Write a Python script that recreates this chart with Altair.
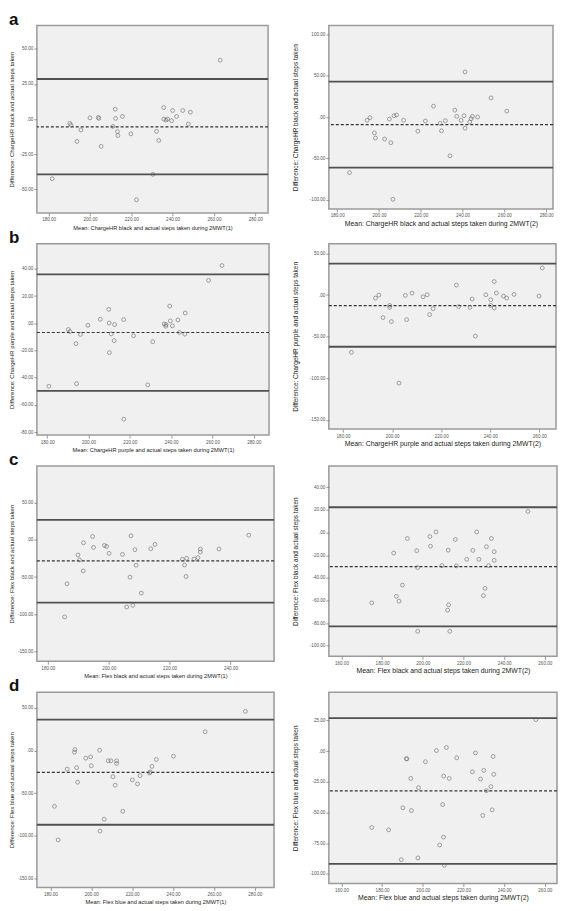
import altair as alt
import pandas as pd

FONT = "Liberation Sans"

# ---------------- data ----------------
# a: ChargeHR black, 2MWT(1)
a1_mean = [181.7, 190.2, 190.8, 193.7, 195.6, 200.0, 204.0, 204.3, 205.4, 211.1, 212.2, 212.4,
           213.3, 213.5, 215.7, 219.8, 222.5, 230.5, 232.2, 233.3, 235.7, 235.7, 236.8, 237.6,
           239.5, 240.0, 241.9, 244.9, 247.6, 248.6, 263.0]
a1_diff = [-42.4, -3.0, -4.2, -15.9, -7.7, 0.9, 1.2, 0.5, -19.4, -5.2, 7.0, 0.5,
           -8.9, -11.7, 1.9, -10.5, -57.4, -39.3, -8.7, -15.2, 8.2, 0.0, -0.7, 0.0,
           -1.2, 6.1, 1.9, 6.1, -3.5, 4.9, 41.9]
a1_lines = [28.5, -5.6, -39.3]

# a: ChargeHR black, 2MWT(2)
a2_mean = [194.3, 195.7, 197.8, 198.3, 202.7, 205.0, 205.7, 207.2, 208.4, 206.7, 211.8, 185.9,
           218.6, 222.2, 226.1, 229.3, 229.9, 231.8, 234.0, 236.3, 237.2, 239.3, 240.7, 241.2,
           241.2, 243.4, 244.1, 244.7, 247.2, 253.6, 261.2]
a2_diff = [-4.0, -0.8, -19.1, -25.4, -26.6, -2.4, -31.0, 1.6, 2.4, -99.4, -4.0, -67.2,
           -17.1, -4.8, 13.1, -7.6, -16.7, -4.4, -46.9, 8.3, 0.8, -4.0, 1.6, 54.5,
           -13.5, -6.0, -2.0, 0.8, 0.0, 23.1, 7.2]
a2_lines = [42.9, -9.1, -61.2]

# b: ChargeHR purple, 2MWT(1)
b1_mean = [180.8, 190.2, 191.0, 193.9, 194.2, 196.1, 199.7, 205.7, 209.8, 210.0, 210.1, 211.0,
           212.4, 212.6, 217.0, 217.1, 221.8, 228.7, 231.1, 236.6, 237.4, 237.5, 239.3, 239.6,
           240.6, 243.3, 244.0, 246.8, 246.6, 258.1, 264.6]
b1_diff = [-46.3, -4.6, -6.1, -15.0, -44.4, -8.2, -1.5, 2.9, 10.2, 0.2, -21.6, -7.8,
           -12.8, -1.0, 2.7, -70.5, -9.2, -45.3, -13.6, -0.5, -2.2, -1.0, 12.6, 1.7,
           -1.9, 2.4, -6.8, 7.5, -8.0, 31.5, 42.4]
b1_lines = [35.9, -6.8, -49.7]

# b: ChargeHR purple, 2MWT(2)
b2_mean = [183.4, 193.2, 194.6, 196.3, 199.0, 199.0, 199.7, 205.4, 205.9, 208.1, 212.6, 214.3,
           215.3, 216.7, 202.8, 226.2, 227.1, 231.7, 232.6, 233.9, 238.2, 240.2, 240.2, 241.6,
           241.6, 242.5, 245.4, 246.7, 249.7, 259.9, 261.2]
b2_diff = [-68.9, -3.6, 0.0, -27.1, -12.4, -14.7, -31.9, -0.4, -29.5, 2.4, -2.0, 0.4,
           -23.5, -16.3, -106.0, 12.0, -13.9, -14.7, -4.8, -49.4, 0.4, -12.4, -5.6, -15.5,
           16.3, 2.4, -1.2, -3.6, 0.8, -1.2, 32.7]
b2_lines = [37.8, -12.7, -62.2]

# c: Flex black, 2MWT(1)
c1_mean = [185.5, 186.3, 189.9, 190.4, 191.7, 191.6, 194.7, 195.0, 198.6, 199.3, 200.1, 204.5,
           205.9, 207.0, 207.3, 207.9, 208.6, 209.0, 210.7, 213.8, 215.2, 224.2, 224.9, 225.4,
           225.6, 228.0, 229.3, 230.1, 230.1, 236.2, 246.0]
c1_diff = [-103.6, -59.1, -20.4, -27.1, -4.0, -41.8, 4.4, -10.2, -7.6, -8.9, -18.2, -19.6,
           -90.2, -50.2, 5.3, -88.0, -13.3, -34.2, -71.6, -12.0, -6.2, -26.2, -33.8, -49.3,
           -24.9, -25.8, -24.0, -16.4, -12.4, -12.4, 6.2]
c1_lines = [26.7, -28.4, -84.4]

# c: Flex black, 2MWT(2)
c2_mean = [174.9, 185.7, 187.0, 188.3, 190.0, 192.4, 197.0, 197.5, 197.5, 203.5, 203.8, 206.5,
           209.4, 212.2, 212.5, 212.7, 213.3, 216.0, 216.5, 221.6, 224.6, 226.5, 227.6, 229.8,
           230.6, 231.3, 232.4, 233.7, 235.1, 235.1, 251.7]
c2_diff = [-62.1, -18.1, -56.3, -60.6, -46.4, -5.2, -16.0, -30.9, -87.2, -3.5, -12.0, 0.6,
           -29.2, -68.5, -15.5, -63.8, -87.2, -6.1, -29.4, -23.6, -15.7, 0.6, -23.6, -55.7,
           -49.3, -12.5, -29.2, -5.2, -16.9, -24.5, 18.7]
c2_lines = [22.4, -30.0, -82.8]

# d: Flex blue, 2MWT(1)
d1_mean = [182.0, 183.8, 188.2, 191.8, 192.0, 192.8, 193.3, 197.3, 199.7, 200.0, 204.1, 204.3,
           206.3, 208.3, 209.6, 210.6, 211.7, 212.4, 212.4, 215.4, 220.1, 222.6, 223.9, 228.5,
           228.8, 229.7, 231.8, 240.2, 255.7, 275.4]
d1_diff = [-65.4, -104.8, -21.7, -1.9, 1.2, -20.1, -37.1, -8.9, -7.4, -17.8, 0.4, -94.4,
           -80.5, -12.0, -12.0, -30.6, -40.6, -12.0, -15.1, -71.2, -34.4, -39.1, -29.4, -26.3,
           -25.1, -18.6, -10.4, -6.6, 22.1, 46.0]
d1_lines = [36.4, -25.5, -87.0]

# d: Flex blue, 2MWT(2)
d2_mean = [174.9, 183.2, 189.4, 190.2, 191.9, 192.2, 194.1, 194.4, 197.6, 197.9, 201.3, 206.7,
           209.8, 210.2, 210.3, 208.3, 210.6, 211.6, 213.0, 216.7, 224.4, 225.9, 228.4, 229.5,
           230.0, 231.3, 233.5, 234.1, 234.6, 234.9, 255.6]
d2_diff = [-62.2, -64.1, -88.4, -46.2, -6.2, -6.2, -22.2, -48.4, -87.0, -29.7, -8.6, 0.5,
           -43.5, -70.0, -20.3, -76.5, -93.0, 3.0, -22.2, -5.4, -16.8, -1.4, -22.7, -52.4,
           -15.7, -32.2, -28.9, -47.8, -4.3, -18.9, 25.7]
d2_lines = [27.0, -32.4, -91.9]

# axis tick values
x_ticks_a1 = [180, 200, 220, 240, 260, 280]
x_ticks_a2 = [180, 200, 220, 240, 260, 280]
x_ticks_b1 = [180, 200, 220, 240, 260, 280]
x_ticks_b2 = [180, 200, 220, 240, 260]
x_ticks_c1 = [180, 200, 220, 240]
x_ticks_c2 = [160, 180, 200, 220, 240, 260]
x_ticks_d1 = [180, 200, 220, 240, 260, 280]
x_ticks_d2 = [160, 180, 200, 220, 240, 260]

y_ticks_a1 = [-50, -25, 0, 25, 50]
y_ticks_a2 = [-100, -50, 0, 50, 100]
y_ticks_b1 = [-80, -60, -40, -20, 0, 20, 40]
y_ticks_b2 = [-150, -100, -50, 0, 50]
y_ticks_c1 = [-150, -100, -50, 0, 50]
y_ticks_c2 = [-100, -80, -60, -40, -20, 0, 20, 40]
y_ticks_d1 = [-150, -100, -50, 0, 50]
y_ticks_d2 = [-100, -75, -50, -25, 0, 25]

# ---------------- styling ----------------
LABEL_EXPR = "(datum.value < 0 ? '-' : '') + (datum.value == 0 ? '.00' : format(abs(datum.value), '.2f'))"


def panel(mean, diff, lines, xdom, ydom, xticks, yticks, xtitle, ytitle,
          w, h, side, letter=None):
    df = pd.DataFrame({"m": mean, "d": diff})
    ldf = pd.DataFrame({"d": lines, "kind": ["upper", "mean", "lower"]})
    if side == "left":
        xt_size, yt_size, ytx = 5.7, 6.0, -22
    else:
        xt_size, yt_size, ytx = 6.9, 6.5, -30
    xenc = alt.X("m:Q",
                 scale=alt.Scale(domain=xdom, nice=False, zero=False),
                 axis=alt.Axis(values=xticks, format=".2f", title=xtitle,
                               titleFontSize=xt_size, titlePadding=3, labelFlush=False))
    yenc = alt.Y("d:Q",
                 scale=alt.Scale(domain=ydom, nice=False, zero=False),
                 axis=alt.Axis(values=yticks, labelExpr=LABEL_EXPR, title=ytitle,
                               titleFontSize=yt_size, titleX=ytx, labelFlush=False))
    pts = alt.Chart(df).mark_point(shape="circle", filled=False, size=15,
                                   color="#5e5e5e", strokeWidth=0.8, clip=True).encode(
        x=xenc, y=yenc)
    solid = alt.Chart(ldf).transform_filter("datum.kind != 'mean'").mark_rule(
        color="#505050", strokeWidth=1.8).encode(y=yenc)
    dashed = alt.Chart(ldf).transform_filter("datum.kind == 'mean'").mark_rule(
        color="#333333", strokeWidth=1.2, strokeDash=[3, 2]).encode(y=yenc)
    ch = alt.layer(solid, dashed, pts).properties(width=w, height=h)
    if letter:
        ch = ch.properties(title=alt.TitleParams(
            text=letter, anchor="start", frame="group", fontSize=17, fontWeight="bold",
            font="Liberation Sans", color="#111111", offset=-3, dx=-28))
    return ch


a1 = panel(a1_mean, a1_diff, a1_lines, [174.3, 286.2], [-66.7, 66.5], x_ticks_a1, y_ticks_a1,
           "Mean: ChargeHR black and actual steps taken during 2MWT(1)",
           "Difference: ChargeHR black and actual steps taken", 232, 188, "left", "a")
a2 = panel(a2_mean, a2_diff, a2_lines, [176.0, 283.3], [-111.0, 110.5], x_ticks_a2, y_ticks_a2,
           "Mean: ChargeHR black and actual steps taken during 2MWT(2)",
           "Difference: ChargeHR black and actual steps taken", 225, 184, "right")
b1 = panel(b1_mean, b1_diff, b1_lines, [175.0, 287.4], [-82.2, 58.4], x_ticks_b1, y_ticks_b1,
           "Mean: ChargeHR purple and actual steps taken during 2MWT(1)",
           "Difference: ChargeHR purple and actual steps taken", 233, 192, "left", "b")
b2 = panel(b2_mean, b2_diff, b2_lines, [174.2, 266.8], [-161.4, 61.8], x_ticks_b2, y_ticks_b2,
           "Mean: ChargeHR purple and actual steps taken during 2MWT(2)",
           "Difference: ChargeHR purple and actual steps taken", 228, 186, "right")
c1 = panel(c1_mean, c1_diff, c1_lines, [176.4, 254.3], [-163.1, 99.1], x_ticks_c1, y_ticks_c1,
           "Mean: Flex black and actual steps taken during 2MWT(1)",
           "Difference: Flex black and actual steps taken", 238, 196, "left", "c")
c2 = panel(c2_mean, c2_diff, c2_lines, [153.8, 266.0], [-109.3, 58.9], x_ticks_c2, y_ticks_c2,
           "Mean: Flex black and actual steps taken during 2MWT(2)",
           "Difference: Flex black and actual steps taken", 229, 191, "right")
d1 = panel(d1_mean, d1_diff, d1_lines, [173.4, 289.4], [-160.5, 68.5], x_ticks_d1, y_ticks_d1,
           "Mean: Flex blue and actual steps taken during 2MWT(1)",
           "Difference: Flex blue and actual steps taken", 238, 196, "left", "d")
d2 = panel(d2_mean, d2_diff, d2_lines, [153.8, 266.0], [-107.8, 48.1], x_ticks_d2, y_ticks_d2,
           "Mean: Flex blue and actual steps taken during 2MWT(2)",
           "Difference: Flex blue and actual steps taken", 229, 192, "right")

chart = alt.concat(a1, a2, b1, b2, c1, c2, d1, d2, columns=2,
                   spacing={"row": 31, "column": 55}, bounds="flush").properties(
    padding=0, background="white"
).configure_view(
    fill="#F0F0F0", stroke="#9A9A9A", strokeWidth=1.5
).configure_axis(
    domain=False, grid=False, ticks=True, tickSize=3, tickColor="#808080", tickWidth=0.8,
    labelFont=FONT, labelFontSize=4.6, labelColor="#555555", labelPadding=1,
    titleFont=FONT, titleFontWeight="normal", titleColor="#222222"
)

chart.save("out.html", embed_options={"renderer": "svg", "actions": False})
